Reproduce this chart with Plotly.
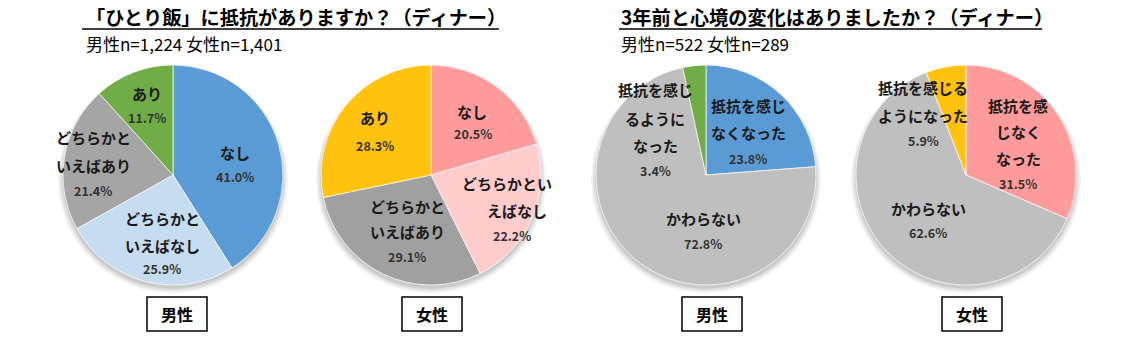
import plotly.graph_objects as go

W, H = 1125, 340
FONT = "Noto Sans CJK JP"

# ---------------- data ----------------
titles = ["「ひとり飯」に抵抗がありますか？（ディナー）", "3年前と心境の変化はありましたか？（ディナー）"]
subtitles = ["男性n=1,224 女性n=1,401", "男性n=522 女性n=289"]
gender_labels = ["男性", "女性", "男性", "女性"]

q1_categories = ["なし", "どちらかといえばなし", "どちらかといえばあり", "あり"]
q1_male = [41.0, 25.9, 21.4, 11.7]
q1_female = [20.5, 22.2, 29.1, 28.3]

q2_categories = ["抵抗を感じなくなった", "かわらない", "抵抗を感じるようになった"]
q2_male = [23.8, 72.8, 3.4]
q2_female = [31.5, 62.6, 5.9]

# ---------------- styles / layout ----------------
R = 110
pie_centers = [(173, 175), (431, 175), (706, 175), (966, 175)]
box_centers = [(177, 314), (432, 314), (712, 314), (972, 314)]

pie_colors = [
    ["#5B9BD5", "#C5DCF1", "#A5A5A5", "#70AD47"],
    ["#FF9B9B", "#FFCCCC", "#A0A0A0", "#FFC20E"],
    ["#5B9BD5", "#BFBFBF", "#70AD47"],
    ["#FF9B9B", "#BFBFBF", "#FFC20E"],
]

# label line breaks and placement (pixel positions: x center, list of line y's; last is the percent)
label_layout = [
    [  # pie 1
        (["なし"], [(235, 153)], (235, 176)),
        (["どちらかと", "いえばなし"], [(162, 218), (162, 245)], (162, 268)),
        (["どちらかと", "いえばあり"], [(93, 137), (93, 165)], (93, 190)),
        (["あり"], [(147, 93)], (147, 117)),
    ],
    [  # pie 2
        (["なし"], [(472, 112)], (473, 134)),
        (["どちらかとい", "えばなし"], [(507, 183), (517, 210)], (512, 235)),
        (["どちらかと", "いえばあり"], [(407, 207), (407, 231)], (407, 256)),
        (["あり"], [(375, 117)], (375, 145)),
    ],
    [  # pie 3
        (["抵抗を感じ", "なくなった"], [(748, 105), (748, 133)], (748, 158)),
        (["かわらない"], [(703, 218)], (703, 243)),
        (["抵抗を感じ", "るように", "なった"], [(655, 90), (655, 118), (655, 145)], (655, 170)),
    ],
    [  # pie 4
        (["抵抗を感", "じなく", "なった"], [(1018, 105), (1018, 131), (1018, 158)], (1018, 183)),
        (["かわらない"], [(928, 208)], (928, 232)),
        (["抵抗を感じる", "ようになった"], [(923, 88), (923, 115)], (923, 140)),
    ],
]

values_list = [q1_male, q1_female, q2_male, q2_female]
cats_list = [q1_categories, q1_categories, q2_categories, q2_categories]

fig = go.Figure()

def px(x):
    return x / W

def py(y):
    return 1 - y / H

shapes = []
annotations = []

for i, (vals, cats) in enumerate(zip(values_list, cats_list)):
    cx, cy = pie_centers[i]
    fig.add_trace(go.Pie(
        values=vals,
        labels=cats,
        sort=False,
        direction="clockwise",
        rotation=0,
        textinfo="none",
        hoverinfo="label+value",
        marker=dict(colors=pie_colors[i], line=dict(color="rgba(255,255,255,0.7)", width=1)),
        domain=dict(x=[px(cx - R), px(cx + R)], y=[py(cy + R), py(cy - R)]),
        showlegend=False,
    ))
    # soft drop shadow
    for k, op in [(6, 0.05), (4, 0.07), (2, 0.09)]:
        shapes.append(dict(
            type="circle", xref="paper", yref="paper", layer="below",
            x0=px(cx - R - k + 1), x1=px(cx + R + k - 1),
            y0=py(cy + R + k + 2), y1=py(cy - R + 2),
            fillcolor=f"rgba(0,0,0,{op})", line=dict(width=0),
        ))
    # labels
    for j, (lines, line_pos, pct_pos) in enumerate(label_layout[i]):
        for t, (lx, ly) in zip(lines, line_pos):
            annotations.append(dict(
                text=f"<b>{t}</b>", x=px(lx), y=py(ly), xref="paper", yref="paper",
                xanchor="center", yanchor="middle", showarrow=False,
                font=dict(family=FONT, size=15, color="#1a1a1a"),
            ))
        annotations.append(dict(
            text=f"<b>{vals[j]:.1f}%</b>", x=px(pct_pos[0]), y=py(pct_pos[1]),
            xref="paper", yref="paper", xanchor="center", yanchor="middle",
            showarrow=False, font=dict(family=FONT, size=12.5, color="#333333"),
        ))

# gender boxes
for (bx, by), g in zip(box_centers, gender_labels):
    shapes.append(dict(
        type="rect", xref="paper", yref="paper",
        x0=px(bx - 30), x1=px(bx + 30), y0=py(by + 17), y1=py(by - 17),
        line=dict(color="black", width=1.5), fillcolor="white",
    ))
    annotations.append(dict(
        text=f"<b>{g}</b>", x=px(bx), y=py(by), xref="paper", yref="paper",
        xanchor="center", yanchor="middle", showarrow=False,
        font=dict(family=FONT, size=16, color="black"),
    ))

# titles
title_x = [84, 619]
underline = [(82, 499), (619, 1042)]
for t, s, tx, (u0, u1) in zip(titles, subtitles, title_x, underline):
    annotations.append(dict(
        text=f"<b>{t}</b>", x=px(tx), y=py(17), xref="paper", yref="paper",
        xanchor="left", yanchor="middle", showarrow=False,
        font=dict(family=FONT, size=19.2, color="black"),
    ))
    annotations.append(dict(
        text=s, x=px(tx), y=py(44), xref="paper", yref="paper",
        xanchor="left", yanchor="middle", showarrow=False,
        font=dict(family=FONT, size=17, color="black"),
    ))
    shapes.append(dict(
        type="line", xref="paper", yref="paper",
        x0=px(u0), x1=px(u1), y0=py(29), y1=py(29),
        line=dict(color="black", width=1.5),
    ))

fig.update_layout(
    width=W, height=H,
    margin=dict(l=0, r=0, t=0, b=0),
    paper_bgcolor="white", plot_bgcolor="white",
    shapes=shapes, annotations=annotations,
)

fig.write_html("out.html")
